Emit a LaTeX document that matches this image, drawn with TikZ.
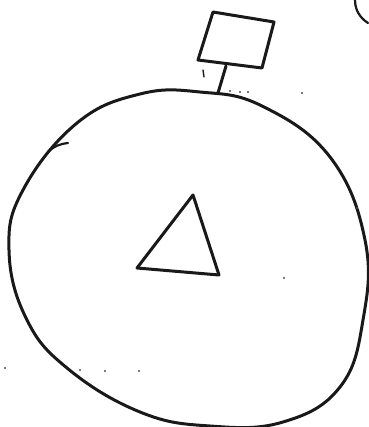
\documentclass[tikz,border=0pt]{standalone}
\usepackage{tikz}
\usetikzlibrary{calc}

\begin{document}
\begin{tikzpicture}[
  x=1pt,y=-1pt,
  line width=3pt,
  line join=round,
  line cap=round,
  inkline/.style={black!90},
  speck/.style={fill=black!70}
]

% ==================================================
% 枠
% ==================================================
\useasboundingbox (0,0) rectangle (368,427);

% ==================================================
% 大きな輪郭
% ==================================================
\draw[inkline,smooth cycle,tension=0.7] plot coordinates {
  (200,92) (262,106) (330,157) (365,240) (363,320) (340,387)
  (283,422) (210,426) (140,412) (67,368) (26,318) (9,250)
  (23,190) (77,123) (140,94)
};

% 左上の小さなはね
\draw[inkline,line width=2.2pt] (48,152) .. controls (54,146) and (60,144) .. (68,143);

% ==================================================
% 三角形
% ==================================================
\draw[inkline] (193,195) -- (219,275) -- (137,268) -- cycle;

% ==================================================
% 上の四角と柄
% ==================================================
\draw[inkline] (213,12) -- (274,22) -- (262,68) -- (198,60) -- cycle;
\coordinate (stemtop) at (226,66);
\coordinate (stembot) at (218,93);
\draw[inkline] (stemtop) -- (stembot);
\draw[inkline,line width=1.4pt] (203,70) -- (204,77);

% 右上隅の曲線
\draw[inkline,line width=2.2pt] (355,0) .. controls (355,10) and (360,18) .. (368,23);

% ==================================================
% 細かい点
% ==================================================
\foreach \p in {(230,91),(240,92),(248,92),(302,93),(5,368),(80,370),(105,371),(139,371),(284,278),(357,208)}{
  \fill[speck] \p circle (1.1);
}

\end{tikzpicture}
\end{document}
